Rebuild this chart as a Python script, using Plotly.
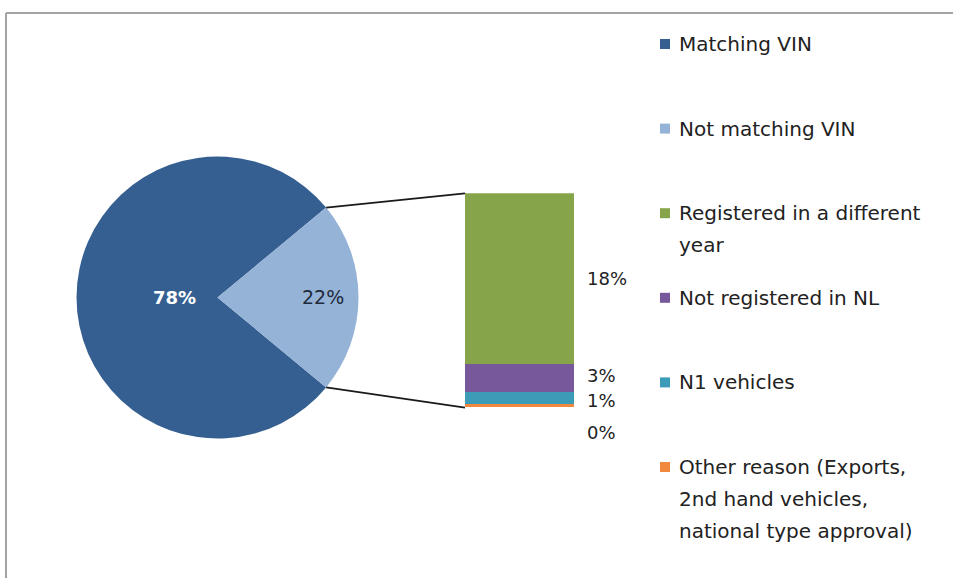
import math
import plotly.graph_objects as go

# ---------------- data ----------------
pie_labels = ["Matching VIN", "Not matching VIN"]
pie_values = [78, 22]

bar_labels = ["Other reason (Exports,\n2nd hand vehicles,\nnational type approval)",
              "N1 vehicles",
              "Not registered in NL",
              "Registered in a different\nyear"]
bar_values = [0.3, 1.3, 2.9, 17.5]

legend_order = ["Matching VIN", "Not matching VIN",
                "Registered in a different\nyear", "Not registered in NL",
                "N1 vehicles",
                "Other reason (Exports,\n2nd hand vehicles,\nnational type approval)"]

# ---------------- style ----------------
W, H = 953, 578
FONT = "DejaVu Sans"
pie_colors = ["#365f91", "#95b3d7"]
bar_colors = ["#f0883e", "#3c9bb7", "#77589a", "#86a44a"]
color_map = dict(zip(pie_labels + bar_labels, pie_colors + bar_colors))

PIE_CX, PIE_CY, PIE_R = 217.5, 297.5, 141.0
BAR_X0, BAR_X1, BAR_YT, BAR_YB = 465.0, 574.0, 193.3, 407.7


def px_x(x):
    return x / W


def px_y(y):
    return 1 - y / H


fig = go.Figure()

# pie: the small slice centred at 3 o'clock
small_share = pie_values[1] / sum(pie_values)
start_small = 90 - small_share * 180            # clockwise from 12 o'clock
end_small = 90 + small_share * 180
rotation = end_small                            # first (big) slice starts here

fig.add_trace(go.Pie(
    labels=pie_labels, values=pie_values, sort=False, direction="clockwise",
    rotation=rotation, textinfo="none", hoverinfo="label+percent",
    marker=dict(colors=pie_colors, line=dict(width=0)),
    domain=dict(x=[px_x(PIE_CX - PIE_R), px_x(PIE_CX + PIE_R)],
                y=[px_y(PIE_CY + PIE_R), px_y(PIE_CY - PIE_R)]),
    showlegend=False,
))

# stacked bar of the breakdown
for lab, val, col in zip(bar_labels, bar_values, bar_colors):
    fig.add_trace(go.Bar(
        x=[0], y=[val], width=1, name=lab.replace("\n", " "),
        marker=dict(color=col, line=dict(width=0)),
        showlegend=False, xaxis="x", yaxis="y",
    ))

annotations = []
shapes = []

# pie labels
pie_label_r = [0.47, 0.745]
pie_label_size = [18, 19]
angle = rotation
for i, (val, frac, fs) in enumerate(zip(pie_values, pie_label_r, pie_label_size)):
    span = val / sum(pie_values) * 360
    mid = math.radians(angle + span / 2)
    x = PIE_CX + frac * PIE_R * math.sin(mid)
    y = PIE_CY - frac * PIE_R * math.cos(mid)
    annotations.append(dict(
        x=px_x(x), y=px_y(y), xref="paper", yref="paper",
        text=f"<b>{val:.0f}%</b>" if i == 0 else f"{val:.0f}%",
        showarrow=False,
        font=dict(family=FONT, size=fs, color="white" if i == 0 else "#1f2a3c"),
    ))
    angle += span

# bar labels
label_yshift = [-26, -2, 2, 0]
cum = 0
for val, ys in zip(bar_values, label_yshift):
    annotations.append(dict(
        x=0.5, y=cum + val / 2, xref="x", yref="y", xanchor="left",
        xshift=11, yshift=ys, text=f"{val:.0f}%", showarrow=False,
        font=dict(family=FONT, size=18, color="#222222"),
    ))
    cum += val

# connector lines from pie slice edges to bar corners
for a, by in [(start_small, BAR_YT), (end_small, BAR_YB)]:
    ar = math.radians(a)
    ex = PIE_CX + PIE_R * math.sin(ar)
    ey = PIE_CY - PIE_R * math.cos(ar)
    shapes.append(dict(type="line", xref="paper", yref="paper",
                       x0=px_x(ex), y0=px_y(ey), x1=px_x(BAR_X0), y1=px_y(by),
                       line=dict(color="#1a1a1a", width=1.8)))

# outer frame (top and left edges visible)
shapes.append(dict(type="line", xref="paper", yref="paper",
                   x0=px_x(6), y0=px_y(13), x1=1, y1=px_y(13),
                   line=dict(color="#a3a3a3", width=2)))
shapes.append(dict(type="line", xref="paper", yref="paper",
                   x0=px_x(6), y0=px_y(13), x1=px_x(6), y1=0,
                   line=dict(color="#a3a3a3", width=2)))

# manual legend
LEG_X_SQ, LEG_X_TXT, LEG_Y0, LEG_STEP, LINE_STEP, SQ = 660, 677, 44, 84.6, 32, 10
for i, lab in enumerate(legend_order):
    y0 = LEG_Y0 + i * LEG_STEP
    shapes.append(dict(type="rect", xref="paper", yref="paper",
                       x0=px_x(LEG_X_SQ), x1=px_x(LEG_X_SQ + SQ),
                       y0=px_y(y0 + SQ / 2), y1=px_y(y0 - SQ / 2),
                       fillcolor=color_map[lab], line=dict(width=0)))
    for j, line in enumerate(lab.split("\n")):
        annotations.append(dict(
            x=px_x(LEG_X_TXT), y=px_y(y0 + j * LINE_STEP), xref="paper", yref="paper",
            xanchor="left", yanchor="middle", text=line, showarrow=False,
            font=dict(family=FONT, size=20, color="#222222"),
        ))

fig.update_layout(
    width=W, height=H, margin=dict(l=0, r=0, t=0, b=0),
    paper_bgcolor="white", plot_bgcolor="white",
    barmode="stack", bargap=0,
    xaxis=dict(domain=[px_x(BAR_X0), px_x(BAR_X1)], range=[-0.5, 0.5],
               visible=False, fixedrange=True),
    yaxis=dict(domain=[px_y(BAR_YB), px_y(BAR_YT)], range=[0, sum(bar_values)],
               visible=False, fixedrange=True),
    annotations=annotations, shapes=shapes,
    showlegend=False,
)

fig.write_html(
    "out.html",
    config={"displayModeBar": False},
    post_script="document.body.style.margin='0';document.body.style.overflow='hidden';",
)
